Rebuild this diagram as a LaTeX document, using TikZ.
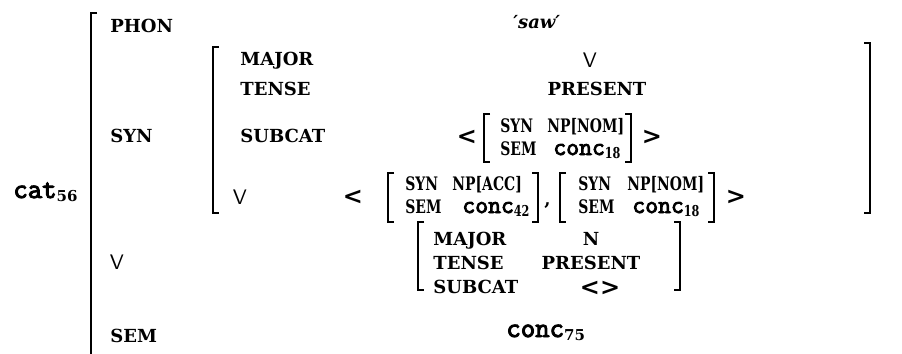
\documentclass[tikz,border=0pt]{standalone}
\usepackage{fontspec}
\setmainfont{DejaVu Serif}
\newfontfamily\monob{Latin Modern Mono}[FakeBold=3.5]
\newfontfamily\innerf{DejaVu Serif}[FakeStretch=0.75]
\newcommand\lc[3]{{\monob\fontsize{#3}{14}\selectfont #1}\raisebox{-1.8pt}{\fontsize{7.5}{9}\selectfont\bfseries #2}}
\tikzset{
  lab/.style={inner sep=0pt, anchor=base west, font=\fontsize{9}{11}\selectfont\bfseries},
  labc/.style={lab, anchor=base},
  ilab/.style={inner sep=0pt, anchor=base west, font=\innerf\fontsize{9.3}{11}\selectfont\bfseries},
  vee/.style={inner sep=0pt, anchor=center, font=\fontsize{10.5}{12}\sffamily},
  ang/.style={inner sep=0pt, anchor=center, font=\fontsize{12}{14}\selectfont\bfseries},
  brk/.style={line width=1.1pt, line cap=butt, line join=miter}
}
\newcommand\lbk[3]{\draw[brk] (#1+6,#2) -- (#1,#2) -- (#1,#3) -- (#1+6,#3);}
\newcommand\rbk[3]{\draw[brk] (#1-6,#2) -- (#1,#2) -- (#1,#3) -- (#1-6,#3);}
\begin{document}
\begin{tikzpicture}[x=0.5pt,y=-0.5pt]
\useasboundingbox (0,0) rectangle (902,354);
% brackets
\lbk{91}{13}{356}
\lbk{213}{47}{213}
\rbk{870}{43}{213}
\lbk{484}{114}{162}
\rbk{631}{114}{162}
\lbk{388}{173}{222}
\rbk{538}{173}{222}
\lbk{560}{173}{222}
\rbk{714}{173}{222}
\lbk{418}{222}{290}
\rbk{680}{222}{290}
% labels
\node[lab] (cat) at (13,198) {\lc{cat}{56}{14}};
\node[lab] (phon) at (110,32) {PHON};
\node[lab] (saw) at (513,28) {\itshape\char"2032 saw\char"2032};
\node[lab] (syn) at (110,142) {SYN};
\node[vee] (v1) at (117,262) {V};
\node[lab] (sem) at (110,342) {SEM};
\node[lab] (major) at (240,65) {MAJOR};
\node[lab] (tense) at (240,95) {TENSE};
\node[lab] (subcat) at (240,142) {SUBCAT};
\node[vee] (v2) at (240,197) {V};
\node[vee] (vval) at (590,60) {V};
\node[labc] (pres) at (597,95) {PRESENT};
% subcat value
\node[ang] (lt1) at (467,137) {<};
\node[ilab] (s1) at (500,132) {SYN};
\node[ilab] (np1) at (547,132) {NP[NOM]};
\node[ilab] (e1) at (500,155) {SEM};
\node[ilab] (c1) at (553,155) {\lc{conc}{18}{12.5}};
\node[ang] (gt1) at (652,137) {>};
% V value
\node[ang] (lt2) at (353,197) {<};
\node[ilab] (s2) at (405,190) {SYN};
\node[ilab] (np2) at (452,190) {NP[ACC]};
\node[ilab] (e2) at (405,213) {SEM};
\node[ilab] (c2) at (462,213) {\lc{conc}{42}{12.5}};
\node[lab] (comma) at (544,205) {,};
\node[ilab] (s3) at (578,190) {SYN};
\node[ilab] (np3) at (627,190) {NP[NOM]};
\node[ilab] (e3) at (578,213) {SEM};
\node[ilab] (c3) at (632,213) {\lc{conc}{18}{12.5}};
\node[ang] (gt2) at (736,197) {>};
% outer V value
\node[lab] (m2) at (433,245) {MAJOR};
\node[labc] (n2) at (591,245) {N};
\node[lab] (t2) at (433,269) {TENSE};
\node[labc] (p2) at (591,269) {PRESENT};
\node[lab] (sc2) at (433,293) {SUBCAT};
\node[ang] (em2) at (600,288) {<>};
% sem value
\node[lab] (c4) at (506,337) {\lc{conc}{75}{14}};
\end{tikzpicture}
\end{document}
